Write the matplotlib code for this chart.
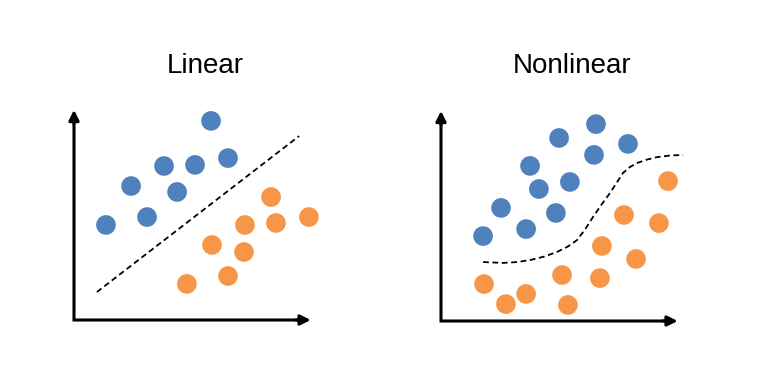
import matplotlib
matplotlib.use("Agg")
import matplotlib.pyplot as plt

# ---- data ----
titles = ["Linear", "Nonlinear"]

lin_blue_x = [1.30, 2.32, 2.97, 3.66, 4.19, 4.92, 5.57, 6.26]
lin_blue_y = [4.32, 6.09, 4.68, 7.00, 5.82, 7.05, 9.05, 7.36]
lin_orange_x = [4.59, 5.61, 6.26, 6.95, 6.91, 8.01, 8.21, 9.55]
lin_orange_y = [1.64, 3.41, 2.00, 4.32, 3.09, 5.59, 4.41, 4.68]
lin_bound_x = [0.93, 9.15]
lin_bound_y = [1.27, 8.36]

nl_blue_x = [1.71, 2.44, 3.46, 3.62, 3.98, 4.67, 4.80, 5.24, 6.22, 6.30, 7.60]
nl_blue_y = [3.86, 5.14, 4.18, 7.05, 6.00, 4.91, 8.32, 6.32, 7.55, 8.95, 8.05]
nl_orange_x = [1.75, 2.64, 3.46, 4.92, 5.16, 6.46, 6.54, 7.44, 7.93, 8.86, 9.23]
nl_orange_y = [1.68, 0.77, 1.23, 2.09, 0.73, 1.95, 3.41, 4.82, 2.82, 4.45, 6.36]
nl_bound_x = [1.71, 2.52, 3.10, 3.62, 4.20, 4.72, 5.15, 5.53, 5.85, 6.18, 6.52, 6.87, 7.15, 7.40, 7.68, 7.97, 8.35, 8.78, 9.30, 9.84]
nl_bound_y = [2.68, 2.64, 2.68, 2.77, 2.93, 3.14, 3.38, 3.68, 4.15, 4.73, 5.28, 5.82, 6.30, 6.73, 7.00, 7.18, 7.33, 7.45, 7.52, 7.55]

BLUE = "#4F81BD"
ORANGE = "#F79646"

plt.rcParams['font.family'] = ['Liberation Sans', 'DejaVu Sans']

fig = plt.figure(figsize=(7.71, 3.69), dpi=100)

W, H = 771, 369
boxes = [(74, 49), (441, 48)]
title_x = [205, 572]

panels = [
    (lin_blue_x, lin_blue_y, lin_orange_x, lin_orange_y, lin_bound_x, lin_bound_y),
    (nl_blue_x, nl_blue_y, nl_orange_x, nl_orange_y, nl_bound_x, nl_bound_y),
]

for i, (bx, by, ox, oy, lx, ly) in enumerate(panels):
    left, bottom = boxes[i]
    ax = fig.add_axes([left / W, bottom / H, 246 / W, 220 / H])
    ax.set_xlim(0, 10)
    ax.set_ylim(0, 10)
    ax.axis('off')
    ax.plot(lx, ly, color='black', lw=1.3, dashes=(3.2, 2.0), clip_on=False)
    ax.scatter(bx, by, s=200, color=BLUE, edgecolors='none', zorder=3, clip_on=False)
    ax.scatter(ox, oy, s=200, color=ORANGE, edgecolors='none', zorder=3, clip_on=False)
    # axis lines as one polyline with a square corner
    ax.plot([0, 0, 9.25], [9.1, 0, 0], color='black', lw=2.2, solid_joinstyle='miter',
            solid_capstyle='butt', clip_on=False, snap=False)
    arrow = dict(arrowstyle='-|>', color='black', lw=2.2, mutation_scale=15,
                 shrinkA=0, shrinkB=0)
    ax.annotate('', xy=(9.62, 0), xytext=(9.0, 0), arrowprops=arrow, annotation_clip=False)
    ax.annotate('', xy=(0, 9.55), xytext=(0, 8.9), arrowprops=arrow, annotation_clip=False)
    fig.text(title_x[i] / W, (H - 73) / H, titles[i], ha='center', va='baseline',
             fontsize=20, color='black')

fig.savefig("out.png", dpi=100)
